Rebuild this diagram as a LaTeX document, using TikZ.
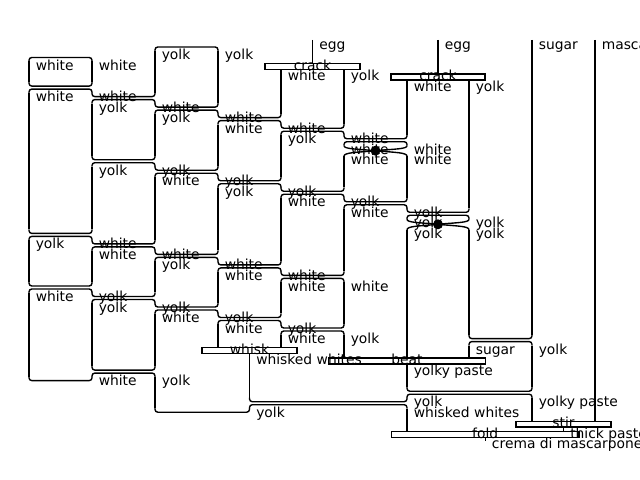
\documentclass[tikz,border=0pt]{standalone}
\usepackage{fontspec}
\setmainfont{DejaVu Sans}
\usepackage{tikz}

% two neighbouring wires change places: upper ends joined, lower ends joined
\newcommand{\swapwires}[3]{%
  \draw[wire] (#1,#3-5.5) -- (#1,#3-1.5) -- (#2,#3-1.5) -- (#2,#3-5.5);
  \draw[wire] (#1,#3+5.5) -- (#1,#3+1.5) -- (#2,#3+1.5) -- (#2,#3+5.5);}

\begin{document}
\begin{tikzpicture}[x=0.01in, y=-0.01in,
    wire/.style={line width=1pt, rounded corners=2pt},
    procbox/.style={draw, fill=white, line width=1pt, inner sep=0pt, minimum height=4.3pt},
    wlab/.style={anchor=base west, inner sep=0pt, xshift=4.7pt, yshift=-2.6pt},
    blab/.style={anchor=base, inner sep=0pt, yshift=-2.6pt},
    spider/.style={circle, fill, inner sep=0pt, minimum size=7.2pt}]
    \useasboundingbox (0,0) rectangle (640,480);

    % Boxes
    \node[procbox, minimum width=68.4pt] (crackA) at (312.5,66.5) {};
    \node[procbox, minimum width=67.7pt] (crackB) at (438,77.1) {};
    \node[procbox, minimum width=68.4pt] (whisk) at (249.5,350.6) {};
    \node[procbox, minimum width=113pt] (beat) at (407,361.1) {};
    \node[procbox, minimum width=68.4pt] (stir) at (563.5,424.2) {};
    \node[procbox, minimum width=135.7pt] (fold) at (485.2,434.7) {};
    \coordinate (eggA) at (312.5,40);
    \coordinate (eggB) at (438,40);
    \coordinate (crema) at (485.2,441);

    % Inputs and outputs of the boxes
    \draw[wire] (eggA) -- (crackA);
    \draw[wire] (eggB) -- (crackB);
    \draw[wire] (whisk) -- (249.5,397.7);
    \draw[wire] (beat) -- (407,387.2);
    \draw[wire] (stir.south) -- (stir.south |- fold.north);
    \draw[wire] (fold) -- (crema);

    % Straight runs of the wires, column by column
    \draw[wire] (29,61.5) -- (29,82.1) (29,93.1) -- (29,229.4) (29,240.4) -- (29,282) (29,293) -- (29,376.6);
    \draw[wire] (92,61.5) -- (92,82.1) (92,103.6) -- (92,155.7) (92,166.7) -- (92,229.4) (92,250.9) -- (92,282) (92,303.5) -- (92,366.1);
    \draw[wire] (155,51) -- (155,92.6) (155,114.1) -- (155,155.7) (155,177.2) -- (155,239.9) (155,261.4) -- (155,292.5) (155,314) -- (155,366.1) (155,377.1) -- (155,408.2);
    \draw[wire] (218,51) -- (218,103.1) (218,124.6) -- (218,166.2) (218,187.8) -- (218,250.4) (218,271.9) -- (218,303) (218,324.5) -- (218,347.6);
    \draw[wire] (281,69.5) -- (281,113.6) (281,135.2) -- (281,176.8) (281,198.3) -- (281,260.9) (281,282.4) -- (281,313.5) (281,335) -- (281,347.6);
    \draw[wire] (344,69.5) -- (344,124.2) (344,156.2) -- (344,187.3) (344,208.8) -- (344,271.4) (344,282.4) -- (344,324) (344,335) -- (344,358.1);
    \draw[wire] (407,80.1) -- (407,134.7) (407,156.2) -- (407,197.8) (407,229.8) -- (407,358.1) (407,364.1) -- (407,387.2) (407,408.7) -- (407,431.7);
    \draw[wire] (469,80.1) -- (469,208.3) (469,229.8) -- (469,334.6) (469,345.6) -- (469,358.1);
    \draw[wire] (532,40) -- (532,334.6) (532,345.6) -- (532,387.2) (532,398.2) -- (532,421.2);
    \draw[wire] (595,40) -- (595,421.2);

    % Open ends at the top and bottom
    \draw[wire] (29,61.5) -- (29,57.5) -- (92,57.5) -- (92,61.5);
    \draw[wire] (155,51) -- (155,47) -- (218,47) -- (218,51);
    \draw[wire] (29,376.6) -- (29,380.6) -- (92,380.6) -- (92,376.6);
    \draw[wire] (155,408.2) -- (155,412.2) -- (249.5,412.2) -- (249.5,408.2);

    % First run of swaps
    \swapwires{29}{92}{87.6}
    \swapwires{92}{155}{98.1}
    \swapwires{155}{218}{108.6}
    \swapwires{218}{281}{119.1}
    \swapwires{281}{344}{129.7}
    \swapwires{344}{407}{140.2}
    % Second run
    \swapwires{92}{155}{161.2}
    \swapwires{155}{218}{171.7}
    \swapwires{218}{281}{182.3}
    \swapwires{281}{344}{192.8}
    \swapwires{344}{407}{203.3}
    \swapwires{407}{469}{213.8}
    % Third run
    \swapwires{29}{92}{234.9}
    \swapwires{92}{155}{245.4}
    \swapwires{155}{218}{255.9}
    \swapwires{218}{281}{266.4}
    \swapwires{281}{344}{276.9}
    % Fourth run
    \swapwires{29}{92}{287.5}
    \swapwires{92}{155}{298}
    \swapwires{155}{218}{308.5}
    \swapwires{218}{281}{319}
    \swapwires{281}{344}{329.5}
    % Near the bottom
    \swapwires{469}{532}{340.1}
    \swapwires{92}{155}{371.6}
    \swapwires{407}{532}{392.7}
    \swapwires{249.5}{407}{403.2}

    % Spiders
    \node[spider] (spA) at (375.5,150.7) {};
    \draw[wire] (344,145.7) .. controls (344,149) and (356,149) .. (spA.center) .. controls (395,149) and (407,149) .. (407,145.7);
    \draw[wire] (344,156.2) .. controls (344,152.5) and (356,152.5) .. (spA.center) .. controls (395,152.5) and (407,152.5) .. (407,156.2);
    \node[spider] (spB) at (438,224.3) {};
    \draw[wire] (407,219.3) .. controls (407,222.6) and (419,222.6) .. (spB.center) .. controls (457,222.6) and (469,222.6) .. (469,219.3);
    \draw[wire] (407,229.8) .. controls (407,226.1) and (419,226.1) .. (spB.center) .. controls (457,226.1) and (469,226.1) .. (469,229.8);

    % Box texts
    \node[blab] (crackAtxt) at (crackA) {crack};
    \node[blab] (crackBtxt) at (crackB) {crack};
    \node[blab] (whisktxt) at (whisk) {whisk};
    \node[blab] (beattxt) at (beat) {beat};
    \node[blab] (stirtxt) at (stir) {stir};
    \node[blab] (foldtxt) at (fold) {fold};

    % Inputs
    \node[wlab] (lEggA) at (312.5,45.5) {egg};
    \node[wlab] (lEggB) at (438,45.5) {egg};
    \node[wlab] (lI0) at (532,45.5) {sugar};
    \node[wlab] (lJ0) at (595,45.5) {mascarpone};

    % Column A
    \node[wlab] (lA2) at (29,66.5) {white};
    \node[wlab] (lA5) at (29,98.1) {white};
    \node[wlab] (lA19) at (29,245.4) {yolk};
    \node[wlab] (lA24) at (29,298) {white};
    % Column B
    \node[wlab] (lB2) at (92,66.5) {white};
    \node[wlab] (lB5) at (92,98.1) {white};
    \node[wlab] (lB6) at (92,108.6) {yolk};
    \node[wlab] (lB12) at (92,171.7) {yolk};
    \node[wlab] (lB19) at (92,245.4) {white};
    \node[wlab] (lB20) at (92,255.9) {white};
    \node[wlab] (lB24) at (92,298) {yolk};
    \node[wlab] (lB25) at (92,308.5) {yolk};
    \node[wlab] (lB32) at (92,382.1) {white};
    % Column C
    \node[wlab] (lC1) at (155,56) {yolk};
    \node[wlab] (lC6) at (155,108.6) {white};
    \node[wlab] (lC7) at (155,119.1) {yolk};
    \node[wlab] (lC12) at (155,171.7) {yolk};
    \node[wlab] (lC13) at (155,182.3) {white};
    \node[wlab] (lC20) at (155,255.9) {white};
    \node[wlab] (lC21) at (155,266.4) {yolk};
    \node[wlab] (lC25) at (155,308.5) {yolk};
    \node[wlab] (lC26) at (155,319) {white};
    \node[wlab] (lC32) at (155,382.1) {yolk};
    % Column D
    \node[wlab] (lD1) at (218,56) {yolk};
    \node[wlab] (lD7) at (218,119.1) {white};
    \node[wlab] (lD8) at (218,129.7) {white};
    \node[wlab] (lD13) at (218,182.3) {yolk};
    \node[wlab] (lD14) at (218,192.8) {yolk};
    \node[wlab] (lD21) at (218,266.4) {white};
    \node[wlab] (lD22) at (218,276.9) {white};
    \node[wlab] (lD26) at (218,319) {yolk};
    \node[wlab] (lD27) at (218,329.5) {white};
    % Column E
    \node[wlab] (lE3) at (281,77.1) {white};
    \node[wlab] (lE8) at (281,129.7) {white};
    \node[wlab] (lE9) at (281,140.2) {yolk};
    \node[wlab] (lE14) at (281,192.8) {yolk};
    \node[wlab] (lE15) at (281,203.3) {white};
    \node[wlab] (lE22) at (281,276.9) {white};
    \node[wlab] (lE23) at (281,287.5) {white};
    \node[wlab] (lE27) at (281,329.5) {yolk};
    \node[wlab] (lE28) at (281,340.1) {white};
    % Column F
    \node[wlab] (lF3) at (344,77.1) {yolk};
    \node[wlab] (lF9) at (344,140.2) {white};
    \node[wlab] (lF10) at (344,150.7) {white};
    \node[wlab] (lF11) at (344,161.2) {white};
    \node[wlab] (lF15) at (344,203.3) {yolk};
    \node[wlab] (lF16) at (344,213.8) {white};
    \node[wlab] (lF23) at (344,287.5) {white};
    \node[wlab] (lF28) at (344,340.1) {yolk};
    % Column G
    \node[wlab] (lG4) at (407,87.6) {white};
    \node[wlab] (lG10) at (407,150.7) {white};
    \node[wlab] (lG11) at (407,161.2) {white};
    \node[wlab] (lG16) at (407,213.8) {yolk};
    \node[wlab] (lG17) at (407,224.3) {yolk};
    \node[wlab] (lG18) at (407,234.9) {yolk};
    \node[wlab] (lG31) at (407,371.6) {yolky paste};
    \node[wlab] (lG34) at (407,403.2) {yolk};
    \node[wlab] (lG35) at (407,413.7) {whisked whites};
    % Column H and I
    \node[wlab] (lH4) at (469,87.6) {yolk};
    \node[wlab] (lH17) at (469,224.3) {yolk};
    \node[wlab] (lH18) at (469,234.9) {yolk};
    \node[wlab] (lH29) at (469,350.6) {sugar};
    \node[wlab] (lI29) at (532,350.6) {yolk};
    \node[wlab] (lI34) at (532,403.2) {yolky paste};
    % Outputs of whisk, stir and fold
    \node[wlab] (lW30) at (249.5,361.1) {whisked whites};
    \node[wlab] (lW35) at (249.5,413.7) {yolk};
    \node[wlab] (lThick) at (563.5,434.7) {thick paste};
    \node[wlab] (lCrema) at (485.2,445.2) {crema di mascarpone};
\end{tikzpicture}
\end{document}
